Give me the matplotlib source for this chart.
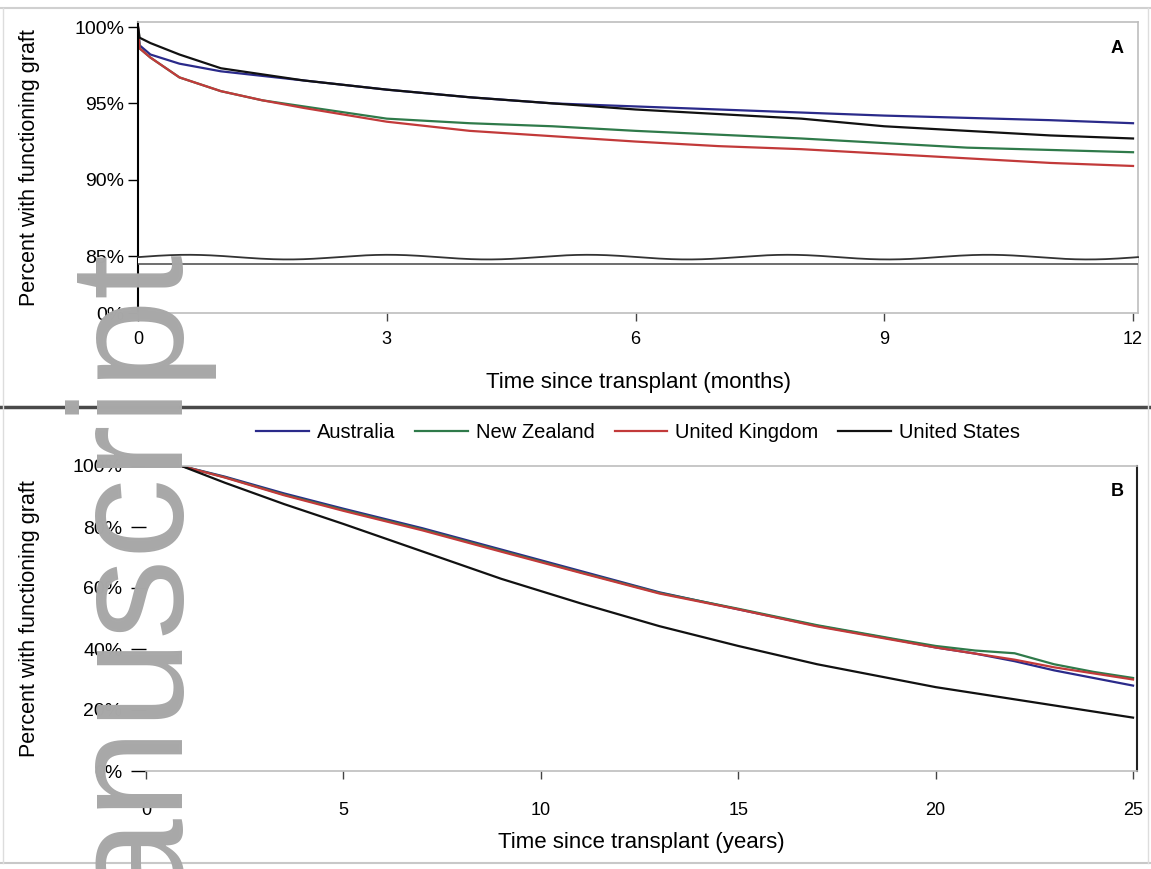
import matplotlib
matplotlib.use("Agg")
import matplotlib.pyplot as plt
import numpy as np
from matplotlib.lines import Line2D

# ---------------- data ----------------
countries = ["Australia", "New Zealand", "United Kingdom", "United States"]
colors = ["#2a2a8a", "#2f7a4a", "#c23a3a", "#111111"]

months = [0, 0.02, 0.15, 0.5, 1, 1.5, 2, 3, 4, 5, 6, 7, 8, 9, 10, 11, 12]
aus_m = [100, 98.8, 98.2, 97.6, 97.1, 96.8, 96.5, 95.9, 95.4, 95.0, 94.8, 94.6, 94.4, 94.2, 94.05, 93.9, 93.7]
nz_m = [100, 98.6, 98.0, 96.7, 95.8, 95.2, 94.8, 94.0, 93.7, 93.5, 93.2, 92.95, 92.7, 92.4, 92.1, 91.95, 91.8]
uk_m = [100, 98.6, 98.0, 96.7, 95.8, 95.2, 94.7, 93.8, 93.2, 92.85, 92.5, 92.2, 92.0, 91.7, 91.4, 91.1, 90.9]
us_m = [100, 99.3, 98.95, 98.2, 97.3, 96.9, 96.5, 95.9, 95.4, 95.0, 94.6, 94.3, 94.0, 93.5, 93.2, 92.9, 92.7]

years = [0, 0.9, 2, 3.5, 5, 7, 9, 11, 13, 15, 17, 19, 20, 21, 22, 23, 24, 25]
aus_y = [100, 100, 96.5, 91, 86, 79.6, 72.6, 65.6, 58.6, 53, 47.6, 43, 40.5, 38.5, 36, 33, 30.5, 28]
nz_y = [100, 100, 96.3, 90.6, 85.6, 79.2, 72.2, 65.2, 58.4, 53.2, 47.8, 43.2, 41, 39.5, 38.6, 35, 32.5, 30.5]
uk_y = [100, 100, 96.2, 90.4, 85.3, 78.9, 71.9, 65.0, 58.2, 53, 47.4, 42.8, 40.5, 38.5, 36.5, 34, 32, 30]
us_y = [100, 100, 94.5, 87.5, 81, 72, 63, 55, 47.5, 41, 35, 30, 27.5, 25.5, 23.5, 21.5, 19.5, 17.5]

top_yticks = [0, 85, 90, 95, 100]
top_yticklabels = ["0%", "85%", "90%", "95%", "100%"]
top_xticks = [0, 3, 6, 9, 12]
bot_yticks = [0, 20, 40, 60, 80, 100]
bot_yticklabels = ["0%", "20%", "40%", "60%", "80%", "100%"]
bot_xticks = [0, 5, 10, 15, 20, 25]

# ---------------- figure ----------------
W, H = 1151, 869
fig = plt.figure(figsize=(W / 100, H / 100), dpi=100)
plt.rcParams['font.family'] = ['Liberation Sans', 'DejaVu Sans']

def px_axes(l, t, r, b):
    return fig.add_axes([l / W, 1 - b / H, (r - l) / W, (b - t) / H])

K = 3.73
def fwd(y):
    y = np.asarray(y, dtype=float)
    return np.where(y < 85, y * K / 85.0, K + (y - 85.0))
def inv(v):
    v = np.asarray(v, dtype=float)
    return np.where(v < K, v * 85.0 / K, v - K + 85.0)

frame_gray = "#bdbdbd"
tick_font = 14
label_font = 16

# ---- top panel ----
ax1 = px_axes(138, 22, 1138, 313)
ax1.set_yscale('function', functions=(fwd, inv))
for data, c in zip([aus_m, nz_m, uk_m, us_m], colors):
    ax1.plot(months, data, color=c, lw=1.6)
ax1.set_xlim(0, 12.06)
ax1.set_ylim(0, 100.33)
ax1.set_yticks(top_yticks)
ax1.set_yticklabels(top_yticklabels)
ax1.yaxis.set_minor_locator(matplotlib.ticker.NullLocator())
ax1.set_xticks(top_xticks)
ax1.tick_params(axis='y', length=7, width=1, direction='out', labelsize=tick_font, pad=3)
ax1.tick_params(axis='x', length=6, width=1, direction='out', labelsize=13, pad=7, color='#444444')
ax1.spines['left'].set_color('black')
ax1.spines['left'].set_linewidth(1.5)
for s in ['top', 'right', 'bottom']:
    ax1.spines[s].set_color(frame_gray)
    ax1.spines[s].set_linewidth(1.2)
ax1.set_ylabel("Percent with functioning graft", fontsize=15.5)
ax1.yaxis.set_label_coords(-98 / 1000, 0.5)
ax1.set_xlabel("Time since transplant (months)", fontsize=label_font, labelpad=17)
ax1.text(0.979, 0.91, "A", transform=ax1.transAxes, fontsize=13, fontweight='bold', ha='center', va='center')

# axis break marks
xs = np.linspace(0, 1, 400)
wave = 0.192 + 0.008 * np.sin(xs * 2 * np.pi * 5.0)
ax1.fill_between(xs, 0.17, 0.192, transform=ax1.transAxes, color='white', zorder=4, lw=0)
ax1.plot(xs, wave, transform=ax1.transAxes, color='#333333', lw=1.3, zorder=5, clip_on=False)
ax1.plot([0, 1], [0.168, 0.168], transform=ax1.transAxes, color='#555555', lw=1.2, zorder=5)

# ---- bottom panel ----
ax2 = px_axes(146, 466, 1137, 771)
for data, c in zip([aus_y, nz_y, uk_y, us_y], colors):
    ax2.plot(years, data, color=c, lw=1.6)
ax2.set_xlim(0, 25.1)
ax2.set_ylim(0, 100)
ax2.set_yticks(bot_yticks)
ax2.set_yticklabels(bot_yticklabels)
ax2.set_xticks(bot_xticks)
ax2.tick_params(axis='y', length=11, width=1, direction='out', labelsize=tick_font, pad=6)
ax2.tick_params(axis='x', length=6, width=1, direction='out', labelsize=13, pad=16, color='#444444')
ax2.spines['left'].set_visible(False)
ax2.spines['right'].set_color('#222222')
ax2.spines['right'].set_linewidth(1.5)
for s in ['top', 'bottom']:
    ax2.spines[s].set_color(frame_gray)
    ax2.spines[s].set_linewidth(1.2)
ax2.set_ylabel("Percent with functioning graft", fontsize=15.5)
ax2.yaxis.set_label_coords(-106 / 991, 0.5)
ax2.set_xlabel("Time since transplant (years)", fontsize=label_font, labelpad=10)
ax2.text(0.98, 0.915, "B", transform=ax2.transAxes, fontsize=13, fontweight='bold', ha='center', va='center')

# ---- legend ----
handles = [Line2D([0], [0], color=c, lw=1.6) for c in colors]
fig.legend(handles, countries, loc='center', bbox_to_anchor=(638 / W, 1 - 433 / H),
           ncol=4, frameon=False, handlelength=2.6, handletextpad=0.4, columnspacing=1.0,
           prop={'family': ['Liberation Sans Narrow', 'Liberation Sans'], 'size': 14.5})

# ---- figure frame lines ----
def fig_line(x0, y0, x1, y1, color, lw):
    fig.add_artist(Line2D([x0 / W, x1 / W], [1 - y0 / H, 1 - y1 / H], color=color, lw=lw,
                          transform=fig.transFigure))

fig_line(0, 8, W, 8, "#d0d0d0", 1.5)
fig_line(0, 407, W, 407, "#4a4a4a", 2.5)
fig_line(0, 863, W, 863, "#c8c8c8", 1.5)
fig_line(3, 8, 3, 863, "#dddddd", 1.0)
fig_line(1148, 8, 1148, 863, "#dddddd", 1.0)

# ---- watermark ----
fig.text(172 / W, 1 - 243 / H, "manuscript", rotation=90, rotation_mode='anchor',
         ha='right', va='baseline', fontsize=116, color='#a8a8a8',
         family='Liberation Sans', zorder=20)

fig.savefig("out.png", dpi=100)
